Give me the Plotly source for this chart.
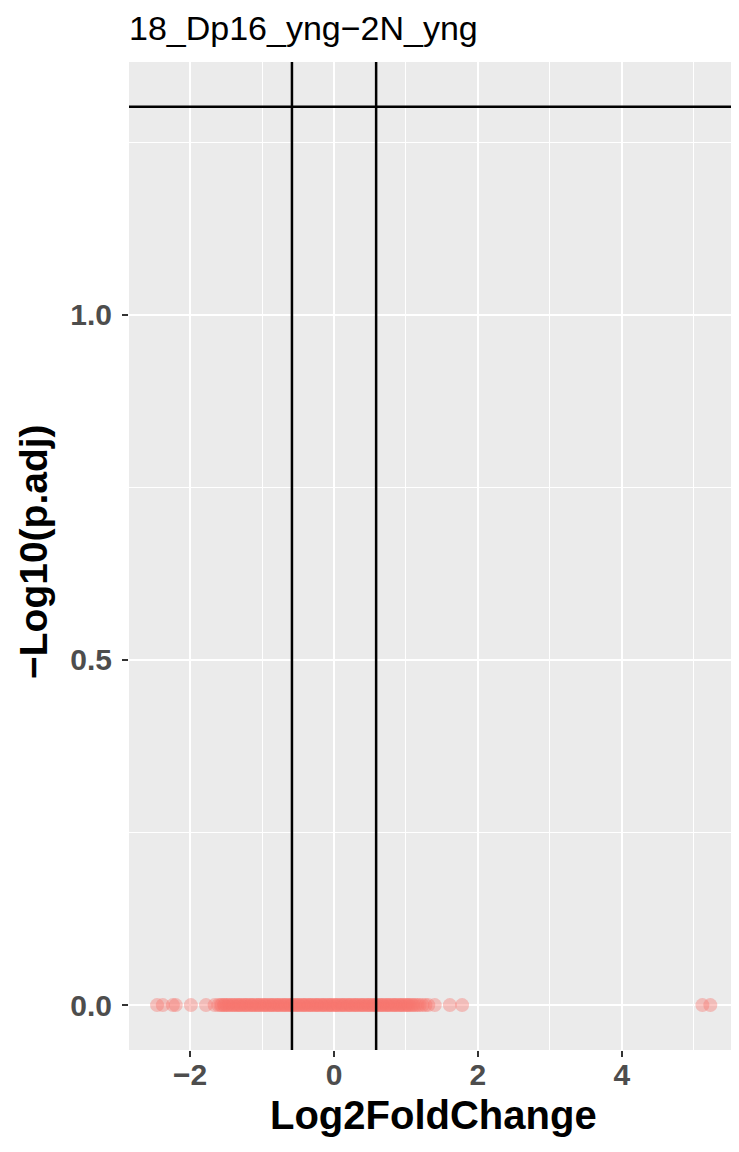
import plotly.graph_objects as go

# ---- data ----
log2fc_sparse = [-2.46, -2.38, -2.24, -2.20, -1.99, -1.78, -1.66,
                 1.27, 1.31, 1.40, 1.61, 1.78, 5.12, 5.23]
log2fc_core = [
    -1.61, -1.58, -1.56, -1.53, -1.52, -1.49, -1.47, -1.45, -1.42, -1.40,
    -1.38, -1.35, -1.33, -1.31, -1.29, -1.26, -1.24, -1.22, -1.20, -1.17,
    -1.15, -1.13, -1.11, -1.08, -1.06, -1.04, -1.02, -0.99, -0.97, -0.95,
    -0.93, -0.90, -0.88, -0.86, -0.84, -0.81, -0.79, -0.77, -0.75, -0.72,
    -0.70, -0.68, -0.66, -0.63, -0.61, -0.59, -0.57, -0.54, -0.52, -0.50,
    -0.48, -0.45, -0.43, -0.41, -0.39, -0.36, -0.34, -0.32, -0.30, -0.27,
    -0.25, -0.23, -0.21, -0.18, -0.16, -0.14, -0.12, -0.09, -0.07, -0.05,
    -0.03, 0.00, 0.02, 0.04, 0.06, 0.09, 0.11, 0.13, 0.15, 0.18,
    0.20, 0.22, 0.24, 0.27, 0.29, 0.31, 0.33, 0.36, 0.38, 0.40,
    0.42, 0.45, 0.47, 0.49, 0.51, 0.54, 0.56, 0.58, 0.60, 0.63,
    0.65, 0.67, 0.69, 0.72, 0.74, 0.76, 0.78, 0.81, 0.83, 0.85,
    0.87, 0.90, 0.92, 0.94, 0.96, 0.99, 1.01, 1.03, 1.05, 1.08,
    1.10, 1.13, 1.16, 1.19, 1.23,
]
log2fc = log2fc_sparse + log2fc_core
neg_log10_padj = [0.0 for _ in log2fc]

fc_cutoff = 0.585          # log2(1.5)
p_cutoff = 1.30103         # -log10(0.05)

title_text = "18_Dp16_yng\u22122N_yng"
x_title = "Log2FoldChange"
y_title = "\u2212Log10(p.adj)"
x_ticks = [-2, 0, 2, 4]
x_ticktext = ["\u22122", "0", "2", "4"]
y_ticks = [0.0, 0.5, 1.0]
y_ticktext = ["0.0", "0.5", "1.0"]

FONT = "Liberation Sans, Arial, Helvetica, sans-serif"

fig = go.Figure()
fig.add_trace(go.Scatter(
    x=log2fc, y=neg_log10_padj, mode="markers",
    marker=dict(color="#F8766D", size=14, opacity=0.4, line=dict(width=0)),
    showlegend=False, hoverinfo="skip",
))

line_style = dict(color="black", width=2.5)
for xv in (-fc_cutoff, fc_cutoff):
    fig.add_shape(type="line", xref="x", yref="paper", x0=xv, x1=xv, y0=0, y1=1,
                  line=line_style, layer="above")
fig.add_shape(type="line", xref="paper", yref="y", x0=0, x1=1, y0=p_cutoff, y1=p_cutoff,
              line=line_style, layer="above")

tickfont = dict(family=FONT, size=30, color="#4D4D4D", weight="bold")

fig.update_xaxes(
    range=[-2.85, 5.615], tickvals=x_ticks, ticktext=x_ticktext,
    showgrid=True, gridcolor="white", gridwidth=2.4, zeroline=False,
    minor=dict(dtick=1, tick0=-3, showgrid=True, gridcolor="white", gridwidth=1.3, ticks=""),
    ticks="outside", ticklen=6, tickwidth=2.4, tickcolor="#333333",
    tickfont=tickfont, showline=False, ticklabelstandoff=-8, automargin=False,
)
fig.update_yaxes(
    range=[-0.065, 1.366], tickvals=y_ticks, ticktext=y_ticktext,
    showgrid=True, gridcolor="white", gridwidth=2.4, zeroline=False,
    minor=dict(dtick=0.25, tick0=0, showgrid=True, gridcolor="white", gridwidth=1.3, ticks=""),
    ticks="outside", ticklen=6, tickwidth=2.4, tickcolor="#333333",
    tickfont=tickfont, showline=False, ticklabelstandoff=4, automargin=False,
)

fig.add_annotation(text=x_title, xref="paper", yref="paper", x=0.5, y=0,
                   xanchor="center", yanchor="middle", yshift=-65, showarrow=False,
                   font=dict(family=FONT, size=40, color="black", weight="bold"))
fig.add_annotation(text=y_title, xref="paper", yref="paper", x=0, y=0.5,
                   xanchor="center", yanchor="middle", xshift=-96, yshift=4,
                   textangle=-90, showarrow=False,
                   font=dict(family=FONT, size=39, color="black", weight="bold"))
fig.add_annotation(text=title_text, xref="paper", yref="paper", x=0, y=1,
                   xanchor="left", yanchor="middle", xshift=-2, yshift=34, showarrow=False,
                   font=dict(family=FONT, size=34, color="black"))

# page body has an 8px margin on each side, so the figure is kept inside the window
fig.update_layout(
    width=731, height=1136,
    margin=dict(l=121, r=1, t=54, b=94),
    plot_bgcolor="#EBEBEB", paper_bgcolor="white",
    font=dict(family=FONT),
)

fig.write_html("out.html")
